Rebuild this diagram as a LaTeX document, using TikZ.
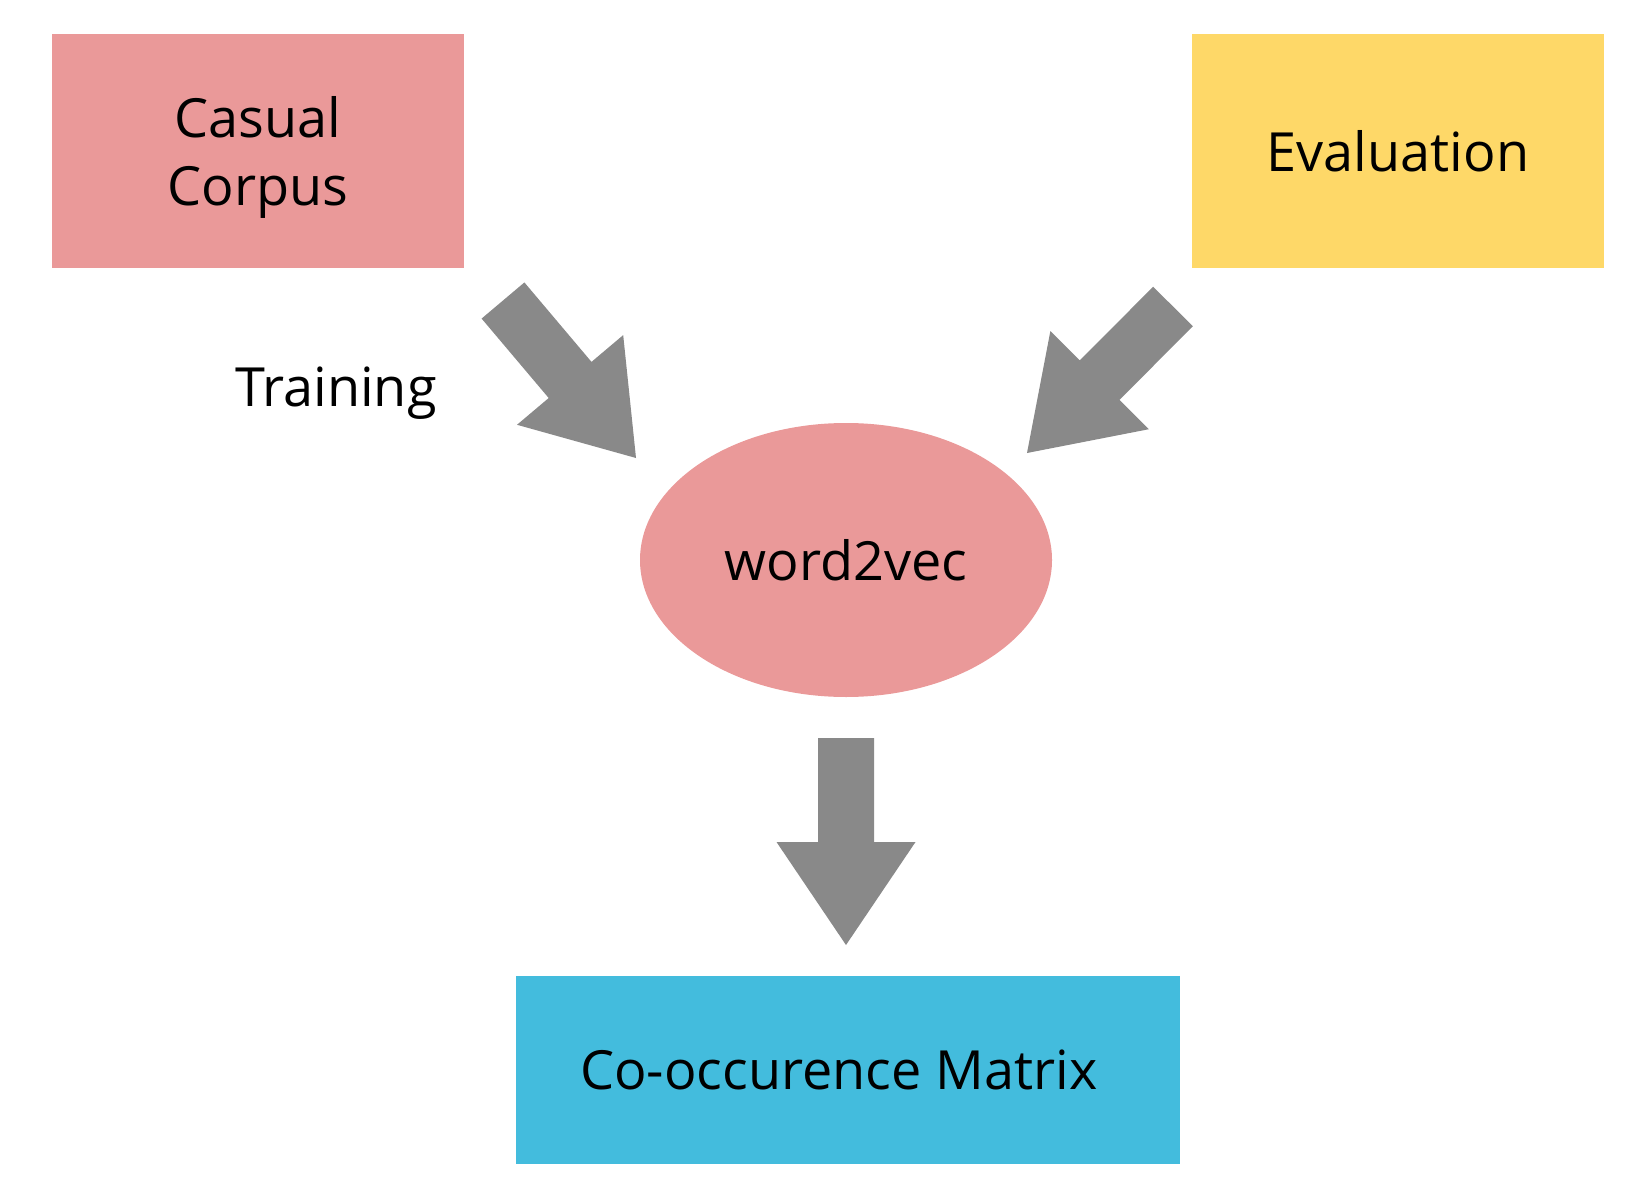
\documentclass[tikz,border=0pt]{standalone}
\usepackage{fontspec}
\setmainfont{Open Sans}
\usetikzlibrary{calc,shapes.geometric}

\definecolor{corpuspink}{RGB}{234,153,153}
\definecolor{evalyellow}{RGB}{254,216,104}
\definecolor{matrixblue}{RGB}{67,188,221}
\definecolor{arrowgray}{RGB}{137,137,137}

% fat block arrow from tail #1 to tip #2
\newcommand{\fatarrow}[2]{%
  \fill[arrowgray]
    ($(#1)!28pt!90:(#2)$) --
    ($(#1)!104pt!(#2)!28pt!90:(#2)$) --
    ($(#1)!104pt!(#2)!69.5pt!90:(#2)$) --
    (#2) --
    ($(#1)!104pt!(#2)!69.5pt!-90:(#2)$) --
    ($(#1)!104pt!(#2)!28pt!-90:(#2)$) --
    ($(#1)!28pt!-90:(#2)$) -- cycle;}

\begin{document}
\begin{tikzpicture}[
  x=1pt, y=-1pt,
  every node/.style={font=\fontsize{54}{68}\selectfont, inner sep=0pt},
  box/.style={minimum width=412pt, minimum height=234pt, align=center},
  corpusbox/.style={box, fill=corpuspink, text depth=0pt},
  evalbox/.style={box, fill=evalyellow},
  modelnode/.style={ellipse, fill=corpuspink, minimum width=412pt, minimum height=274pt},
  matrixbox/.style={fill=matrixblue, minimum width=664pt, minimum height=188pt}
]
\useasboundingbox (0,0) rectangle (1648,1190);
% Inputs
\node[corpusbox] (corpus) at (258,151) {Casual\\Corpus};
\node[evalbox] (eval) at (1398,151) {Evaluation};
% Model
\node[modelnode] (w2v) at (846,560) {word2vec};
\node (train) at (336,393) {Training};
% Output
\node[matrixbox] (matrix) at (848,1070) {Co-occurence Matrix\hspace*{18pt}};
% Arrows
\coordinate (trainS) at (503,300.5);
\coordinate (trainE) at (636,458);
\coordinate (evalS) at (1173,306.5);
\coordinate (evalE) at (1027,453);
\coordinate (outS) at (846,738);
\coordinate (outE) at (846,945);
\fatarrow{trainS}{trainE}
\fatarrow{evalS}{evalE}
\fatarrow{outS}{outE}
\end{tikzpicture}
\end{document}
